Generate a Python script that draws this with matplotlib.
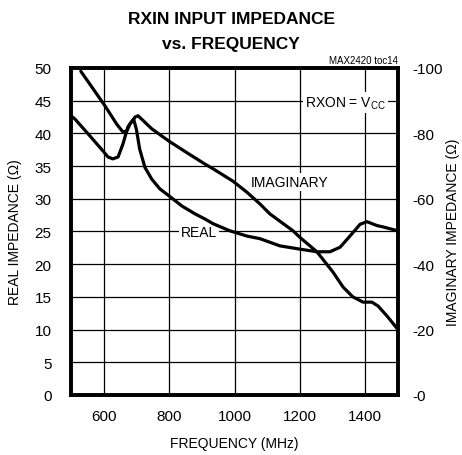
import matplotlib
matplotlib.use("Agg")
import matplotlib.pyplot as plt

plt.rcParams['font.family'] = ['Liberation Sans Narrow', 'Liberation Sans', 'DejaVu Sans']

# Real impedance (ohm, left axis)
real_freq = [500, 512, 558, 598, 613, 628, 644, 659, 674, 687, 692, 700, 710, 726, 747, 772, 801, 839,
             879, 910, 934, 986, 1038, 1078, 1139, 1200, 1252, 1292, 1323, 1353, 1384, 1405, 1436, 1454, 1500]
real_val = [42.7, 42.2, 39.6, 37.3, 36.4, 36.1, 36.4, 38.4, 41.0, 41.9, 42.1, 40.6, 37.6, 34.8, 33.0, 31.5, 30.4, 28.9,
            27.7, 26.9, 26.2, 25.1, 24.3, 23.9, 22.8, 22.3, 21.9, 21.9, 22.6, 24.3, 26.1, 26.5, 25.9, 25.7, 25.1]

# Imaginary impedance (ohm, right axis)
imag_freq = [530, 558, 604, 640, 659, 671, 680, 696, 705, 747, 800, 859, 910, 934, 995, 1038, 1078, 1108,
             1179, 1200, 1252, 1301, 1332, 1362, 1393, 1420, 1439, 1466, 1500]
imag_val = [-99.0, -95.0, -88.4, -82.8, -80.4, -80.8, -82.8, -85.0, -85.4, -81.4, -77.6, -73.8, -70.6, -69.2,
            -65.4, -62.0, -58.4, -55.4, -50.2, -48.2, -43.8, -37.6, -33.0, -30.0, -28.4, -28.4, -27.2,
            -24.2, -20.0]

x_ticks = [600, 800, 1000, 1200, 1400]
y_ticks = [0, 5, 10, 15, 20, 25, 30, 35, 40, 45, 50]
y2_ticks = [0, -20, -40, -60, -80, -100]
y2_labels = ['-0', '-20', '-40', '-60', '-80', '-100']

fig = plt.figure(figsize=(4.62, 4.56), dpi=100)
ax = fig.add_axes([0.1537, 0.1316, 0.7078, 0.7171])
ax.set_xlim(500, 1500)
ax.set_ylim(0, 50)
ax.set_xticks(x_ticks)
ax.set_yticks(y_ticks)
ax.grid(True, color='black', linewidth=0.9)
ax.tick_params(axis='x', length=0, labelsize=11, pad=10)
ax.tick_params(axis='y', length=0, labelsize=11, pad=14)
for s in ax.spines.values():
    s.set_linewidth(2.6)
ax.set_xlabel('FREQUENCY (MHz)', fontsize=10)
ax.xaxis.set_label_coords(0.5, -0.125)
ax.set_ylabel('REAL IMPEDANCE (Ω)', fontsize=10)
ax.yaxis.set_label_coords(-0.15, 0.5)

ax.plot(real_freq, real_val, color='black', linewidth=2.3, solid_capstyle='round',
        solid_joinstyle='round', zorder=5)

ax2 = ax.twinx()
ax2.set_ylim(0, -100)
ax2.set_yticks(y2_ticks)
ax2.set_yticklabels(y2_labels)
ax2.tick_params(length=0, labelsize=11, pad=10)
for s in ax2.spines.values():
    s.set_linewidth(2.6)
ax2.set_ylabel('IMAGINARY IMPEDANCE (Ω)', fontsize=10)
ax2.yaxis.set_label_coords(1.147, 0.5)
ax2.plot(imag_freq, imag_val, color='black', linewidth=2.3, solid_capstyle='round',
         solid_joinstyle='round', zorder=5)

box = dict(facecolor='white', edgecolor='none', pad=1.5)
ax.text(1167, 32.6, 'IMAGINARY', ha='center', va='center', fontsize=10, bbox=box, zorder=4)
ax.text(891, 24.9, 'REAL', ha='center', va='center', fontsize=10, bbox=box, zorder=4)
ax.text(1340, 44.7, 'RXON = V$_{\\mathregular{CC}}$', ha='center', va='center', fontsize=10,
        bbox=box, zorder=4)

ax.text(1.0, 1.01, 'MAX2420 toc14', transform=ax.transAxes, ha='right', va='bottom', fontsize=7)

fig.text(0.5, 0.958, 'RXIN INPUT IMPEDANCE', ha='center', va='center', fontsize=12.5, fontweight='bold')
fig.text(0.5, 0.903, 'vs. FREQUENCY', ha='center', va='center', fontsize=12.5, fontweight='bold')

fig.savefig('out.png', dpi=100)
